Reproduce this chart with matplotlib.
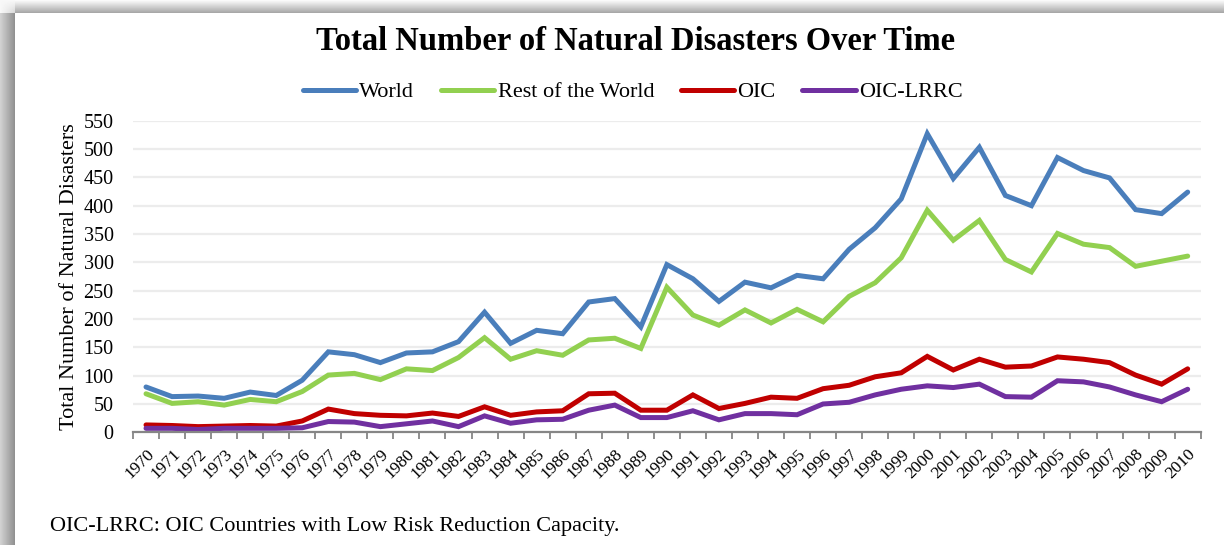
import matplotlib.pyplot as plt
import numpy as np

years = [str(y) for y in range(1970, 2011)]

world = [80, 63, 64, 60, 71, 65, 92, 142, 137, 123, 140, 142, 160, 212, 157, 180, 174,
         230, 236, 186, 296, 271, 231, 265, 255, 277, 271, 323, 361, 412, 527, 448, 503,
         418, 400, 485, 462, 449, 393, 386, 424]
rest_of_world = [68, 51, 54, 48, 58, 54, 72, 101, 104, 93, 112, 109, 132, 167, 129, 144,
                 136, 163, 166, 148, 256, 207, 189, 216, 193, 217, 195, 240, 264, 308, 392,
                 339, 374, 305, 283, 351, 332, 326, 293, 302, 311]
oic = [13, 12, 10, 11, 12, 11, 20, 41, 33, 30, 29, 34, 28, 45, 30, 36, 38, 68, 69, 39, 39,
       66, 42, 51, 62, 60, 77, 83, 98, 105, 134, 110, 129, 115, 117, 133, 129, 123, 101,
       85, 112]
oic_lrrc = [7, 7, 5, 7, 7, 7, 8, 19, 18, 10, 15, 20, 10, 29, 16, 22, 23, 39, 48, 26, 26,
            38, 22, 33, 33, 31, 50, 53, 66, 76, 82, 79, 85, 63, 62, 91, 89, 80, 66, 54, 76]

series = [
    ('World', world, '#4a7ebb'),
    ('Rest of the World', rest_of_world, '#92d050'),
    ('OIC', oic, '#c00000'),
    ('OIC-LRRC', oic_lrrc, '#7030a0'),
]

plt.rcParams['font.family'] = ['Liberation Serif', 'DejaVu Serif']

W, H = 1224, 545
fig = plt.figure(figsize=(W / 100, H / 100), dpi=100)

# shadow frame on the top and left edges
bg = fig.add_axes([0, 0, 1, 1], zorder=-5)
img = np.ones((H, W))
yy, xx = np.mgrid[0:H, 0:W]
top = (yy < 13)
img[top] = 0.98 - 0.32 * (yy[top] / 12.0)
left = (xx < 15) & (yy >= 13)
img[left] = 0.82 - 0.25 * (xx[left] / 14.0)
corner = (xx < 15) & (yy < 13)
img[corner] = 0.97 - 0.12 * (xx[corner] / 14.0) * (yy[corner] / 12.0)
bg.imshow(img, cmap='gray', vmin=0, vmax=1, aspect='auto', interpolation='bilinear')
bg.axis('off')

ax = fig.add_axes([133 / W, 1 - 432.3 / H, (1200.7 - 133) / W, (432.3 - 120.7) / H])
x = np.arange(len(years))
for name, vals, col in series:
    ax.plot(x, vals, color=col, lw=3.6, label=name, solid_capstyle='round',
            solid_joinstyle='miter')

ax.set_xlim(-0.5, len(years) - 0.5)
ax.set_ylim(0, 550)
ax.set_yticks(np.arange(0, 551, 50))
ax.tick_params(axis='y', length=0, labelsize=14.5, pad=14)
ax.set_xticks(x)
ax.set_xticklabels(years, rotation=45, ha='right', va='top', rotation_mode='anchor',
                   fontsize=12.5)
ax.set_xticks(np.arange(-0.5, len(years)), minor=True)
ax.tick_params(axis='x', which='major', length=0, pad=10)
ax.tick_params(axis='x', which='minor', length=5, width=1.3, color='#868686')
ax.grid(axis='y', color='#ececec', lw=1.6)
ax.set_axisbelow(True)
for s in ['top', 'right', 'left']:
    ax.spines[s].set_visible(False)
ax.spines['bottom'].set_color('#868686')
ax.spines['bottom'].set_linewidth(1.6)
ax.set_ylabel('Total Number of Natural Disasters', fontsize=16, labelpad=3)

fig.text(0.519, 1 - 41 / H, 'Total Number of Natural Disasters Over Time', ha='center',
         va='center', fontsize=23.5, fontweight='bold')
fig.legend(loc='center', bbox_to_anchor=(0.517, 1 - 92 / H), ncol=4, frameon=False,
           fontsize=16, handlelength=2.4, handletextpad=0.15, columnspacing=1.2)
fig.text(50 / W, 1 - 527 / H, 'OIC-LRRC: OIC Countries with Low Risk Reduction Capacity.',
         ha='left', va='center', fontsize=16)

fig.savefig('out.png', dpi=100)
